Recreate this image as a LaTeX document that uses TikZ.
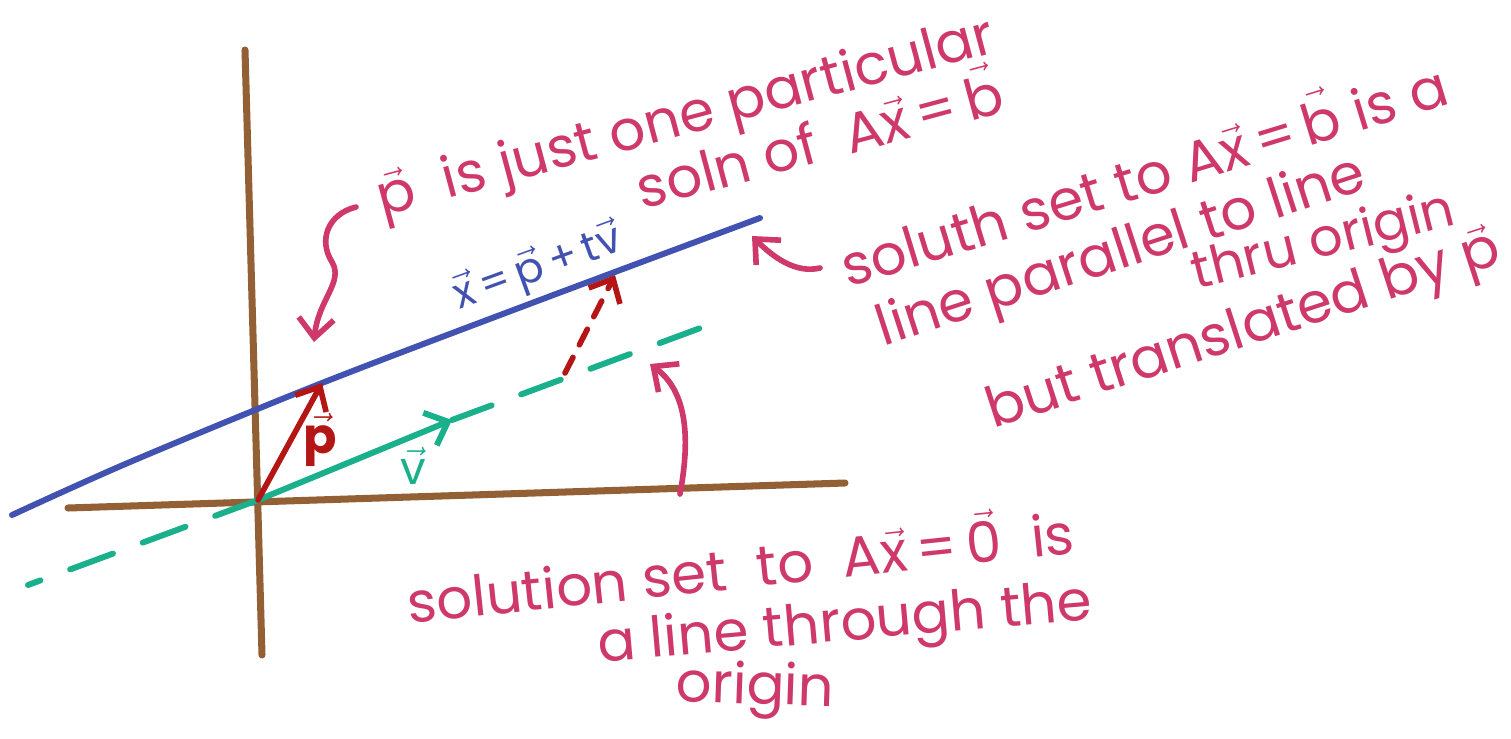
\documentclass[tikz,border=0pt]{standalone}
\usepackage{fontspec}
\setmainfont{Poppins}
\usepackage{tikz}
\usetikzlibrary{arrows.meta}
\definecolor{axisBrown}{RGB}{146,96,52}
\definecolor{lineBlue}{RGB}{66,82,176}
\definecolor{nullTeal}{RGB}{26,176,140}
\definecolor{shiftRed}{RGB}{180,22,22}
\definecolor{notePink}{RGB}{206,56,106}
\newcommand{\vv}[1]{\ensuremath{\vec{\mbox{#1}}}}

\begin{document}
\begin{tikzpicture}[x=0.02cm, y=-0.02cm,
    axis/.style={draw=axisBrown, line width=4pt, line cap=round},
    solline/.style={draw=lineBlue, line width=3.4pt, line cap=round},
    nullline/.style={draw=nullTeal, line width=3.4pt, line cap=round},
    shiftvec/.style={draw=shiftRed, line width=3.2pt, line cap=round},
    headtip/.style={-{Straight Barb[length=11pt, width=20pt]}},
    note/.style={text=notePink, font=\fontsize{32}{38}\selectfont, inner sep=1pt},
    pointer/.style={draw=notePink, line width=3.2pt, line cap=round, line join=round, headtip}
  ]
    \useasboundingbox (0,0) rectangle (1511,738);
    % axes
    \coordinate (o) at (258,500);
    \coordinate (yTop) at (245,50);
    \coordinate (yBot) at (262,655);
    \coordinate (xL) at (68,508);
    \coordinate (xR) at (845,483);
    \draw[axis] (yTop) -- (yBot);
    \draw[axis] (xL) -- (xR);
    % solution line x = p + tv
    \coordinate (bL) at (12,515);
    \coordinate (b1) at (130,462);
    \coordinate (pTip) at (322,383);
    \coordinate (b2) at (540,300);
    \coordinate (bR) at (760,218);
    \draw[solline] plot[smooth] coordinates {(bL) (b1) (pTip) (b2) (bR)};
    % line through origin
    \coordinate (vTip) at (452,420);
    \coordinate (nR) at (722,320);
    \coordinate (nL) at (28,585);
    \draw[nullline, headtip] (o) -- (vTip);
    \draw[nullline, dash pattern=on 24pt off 18pt] (vTip) -- (nR);
    \draw[nullline, dash pattern=on 26pt off 18pt] (o) -- (nL);
    % p and the shift
    \draw[shiftvec, headtip] (o) -- (pTip);
    \coordinate (dS) at (565,373);
    \coordinate (dE) at (615,275);
    \draw[shiftvec, headtip, dash pattern=on 10pt off 8pt] (dS) -- (dE);
    \node[text=shiftRed, font=\fontsize{28}{34}\selectfont\bfseries] (pLab) at (320,440) {\vv{p}};
    \node[text=nullTeal, font=\fontsize{26}{30}\selectfont] (vLab) at (413,466) {\vv{v}};
    \node[text=lineBlue, font=\fontsize{24}{28}\selectfont, rotate=20] (eqLab) at (538,268) {\vv{x}\,=\,\vv{p}\,+\,t\vv{v}};
    % notes
    \node[note, rotate=15] (n1) at (686,120) {\vv{p}\ \ is just one particular};
    \node[note, rotate=15] (n2) at (818,135) {soln of \ A\vv{x}\,=\,\vv{b}};
    \node[note, rotate=17] (r1) at (1142,170) {soluth set to A\vv{x}\,=\,\vv{b} is a};
    \node[note, rotate=18] (r2) at (1122,254) {line parallel to line};
    \node[note, rotate=14, font=\fontsize{30}{36}\selectfont] (r3) at (1324,244) {thru origin};
    \node[note, rotate=18] (r4) at (1244,332) {but translated by \vv{p}};
    \node[note, rotate=6] (s1) at (740,562) {solution set \ to \ A\vv{x}\,=\,\vv{0} \ is};
    \node[note, rotate=5] (s2) at (845,627) {a line through the};
    \node[note, rotate=-2] (s3) at (755,690) {origin};
    % pointers
    \coordinate (wS) at (356,207);
    \coordinate (wE) at (314,342);
    \draw[pointer] (wS) .. controls (328,214) and (318,240) .. (332,262)
      .. controls (344,282) and (318,300) .. (wE);
    \coordinate (aS) at (820,268);
    \coordinate (aE) at (752,236);
    \draw[pointer] (aS) .. controls (795,274) and (772,256) .. (aE);
    \coordinate (cS) at (680,494);
    \coordinate (cE) at (650,364);
    \draw[pointer] (cS) .. controls (690,440) and (688,392) .. (cE);
\end{tikzpicture}
\end{document}
